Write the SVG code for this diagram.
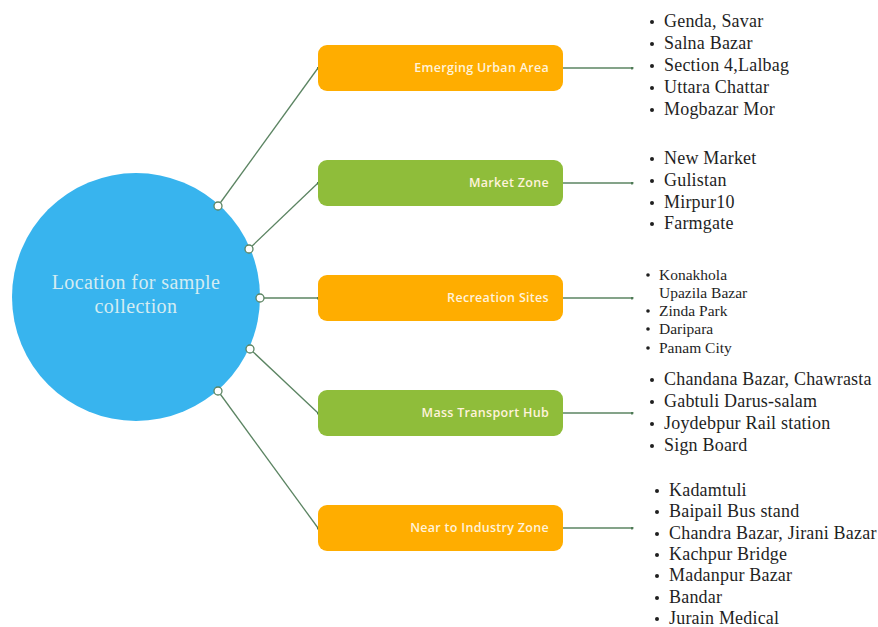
<svg xmlns="http://www.w3.org/2000/svg" width="878" height="627" viewBox="0 0 878 627">
<defs>
<marker id="dot" viewBox="0 0 6 6" refX="3" refY="3" markerWidth="3" markerHeight="3" markerUnits="userSpaceOnUse"><circle cx="3" cy="3" r="3" fill="#4E7A55"/></marker>
<style>
.ln{stroke:#5B8462;stroke-width:1.3;fill:none;marker-end:url(#dot)}
.port{fill:#fff;stroke:#5B8462;stroke-width:1.3}
.box{stroke:none}
.org{fill:#FFAD00}
.grn{fill:#8FBD3A}
.bt{font-family:"Open Sans","Liberation Sans",sans-serif;font-weight:600;font-size:12.5px;fill:#FFF3DA;text-anchor:end;letter-spacing:0.3px}
.li{font-family:"Liberation Serif","Times New Roman",serif;font-size:18px;fill:#1F1F1F;letter-spacing:0.2px}
.ls{font-family:"Liberation Serif","Times New Roman",serif;font-size:15.5px;fill:#1F1F1F}
.bu{fill:#1F1F1F}
.ct{font-family:"Liberation Serif","Times New Roman",serif;font-size:20px;fill:#D4ECF2;text-anchor:middle;letter-spacing:0.4px}
</style>
</defs>
<rect width="878" height="627" fill="#fff"/>
<g id="center">
<circle cx="136" cy="297" r="124" fill="#38B4EE"/>
<text class="ct" x="136" y="289">Location for sample</text>
<text class="ct" x="136" y="313">collection</text>
</g>
<g id="connectors">
<line class="ln" x1="218" y1="206" x2="318" y2="68"/>
<line class="ln" x1="249" y1="249" x2="318" y2="183"/>
<line class="ln" x1="260" y1="298" x2="318" y2="298"/>
<line class="ln" x1="250" y1="349" x2="318" y2="413"/>
<line class="ln" x1="218" y1="391" x2="318" y2="528"/>
<line class="ln" x1="563" y1="68" x2="632" y2="68"/>
<line class="ln" x1="563" y1="183" x2="632" y2="183"/>
<line class="ln" x1="563" y1="298" x2="632" y2="298"/>
<line class="ln" x1="563" y1="413" x2="632" y2="413"/>
<line class="ln" x1="563" y1="528" x2="632" y2="528"/>
<circle class="port" cx="218" cy="206" r="4"/>
<circle class="port" cx="249" cy="249" r="4"/>
<circle class="port" cx="260" cy="298" r="4"/>
<circle class="port" cx="250" cy="349" r="4"/>
<circle class="port" cx="218" cy="391" r="4"/>
</g>
<g id="n1">
<rect class="box org" x="318" y="45" width="245" height="46" rx="9"/>
<text class="bt" x="549" y="72">Emerging Urban Area</text>
</g>
<g id="n2">
<rect class="box grn" x="318" y="160" width="245" height="46" rx="9"/>
<text class="bt" x="549" y="187">Market Zone</text>
</g>
<g id="n3">
<rect class="box org" x="318" y="275" width="245" height="46" rx="9"/>
<text class="bt" x="549" y="302">Recreation Sites</text>
</g>
<g id="n4">
<rect class="box grn" x="318" y="390" width="245" height="46" rx="9"/>
<text class="bt" x="549" y="417">Mass Transport Hub</text>
</g>
<g id="n5">
<rect class="box org" x="318" y="505" width="245" height="46" rx="9"/>
<text class="bt" x="549" y="532">Near to Industry Zone</text>
</g>
<g id="list1">
<circle class="bu" cx="652" cy="22" r="2"/><text class="li" x="664" y="27">Genda, Savar</text>
<circle class="bu" cx="652" cy="44" r="2"/><text class="li" x="664" y="49">Salna Bazar</text>
<circle class="bu" cx="652" cy="66" r="2"/><text class="li" x="664" y="71">Section 4,Lalbag</text>
<circle class="bu" cx="652" cy="88" r="2"/><text class="li" x="664" y="93">Uttara Chattar</text>
<circle class="bu" cx="652" cy="110" r="2"/><text class="li" x="664" y="115">Mogbazar Mor</text>
</g>
<g id="list2">
<circle class="bu" cx="652" cy="159" r="2"/><text class="li" x="664" y="164">New Market</text>
<circle class="bu" cx="652" cy="181" r="2"/><text class="li" x="664" y="186">Gulistan</text>
<circle class="bu" cx="652" cy="203" r="2"/><text class="li" x="664" y="208">Mirpur10</text>
<circle class="bu" cx="652" cy="224" r="2"/><text class="li" x="664" y="229">Farmgate</text>
</g>
<g id="list3">
<circle class="bu" cx="648" cy="275" r="1.8"/><text class="ls" x="659" y="280">Konakhola</text>
<text class="ls" x="659" y="298">Upazila Bazar</text>
<circle class="bu" cx="648" cy="311" r="1.8"/><text class="ls" x="659" y="316">Zinda Park</text>
<circle class="bu" cx="648" cy="329" r="1.8"/><text class="ls" x="659" y="334">Daripara</text>
<circle class="bu" cx="648" cy="348" r="1.8"/><text class="ls" x="659" y="353">Panam City</text>
</g>
<g id="list4">
<circle class="bu" cx="652" cy="380" r="2"/><text class="li" x="664" y="385">Chandana Bazar, Chawrasta</text>
<circle class="bu" cx="652" cy="402" r="2"/><text class="li" x="664" y="407">Gabtuli Darus-salam</text>
<circle class="bu" cx="652" cy="424" r="2"/><text class="li" x="664" y="429">Joydebpur Rail station</text>
<circle class="bu" cx="652" cy="446" r="2"/><text class="li" x="664" y="451">Sign Board</text>
</g>
<g id="list5">
<circle class="bu" cx="657" cy="491" r="2"/><text class="li" x="669" y="496">Kadamtuli</text>
<circle class="bu" cx="657" cy="512" r="2"/><text class="li" x="669" y="517">Baipail Bus stand</text>
<circle class="bu" cx="657" cy="534" r="2"/><text class="li" x="669" y="539">Chandra Bazar, Jirani Bazar</text>
<circle class="bu" cx="657" cy="555" r="2"/><text class="li" x="669" y="560">Kachpur Bridge</text>
<circle class="bu" cx="657" cy="576" r="2"/><text class="li" x="669" y="581">Madanpur Bazar</text>
<circle class="bu" cx="657" cy="598" r="2"/><text class="li" x="669" y="603">Bandar</text>
<circle class="bu" cx="657" cy="619" r="2"/><text class="li" x="669" y="624">Jurain Medical</text>
</g>
</svg>
